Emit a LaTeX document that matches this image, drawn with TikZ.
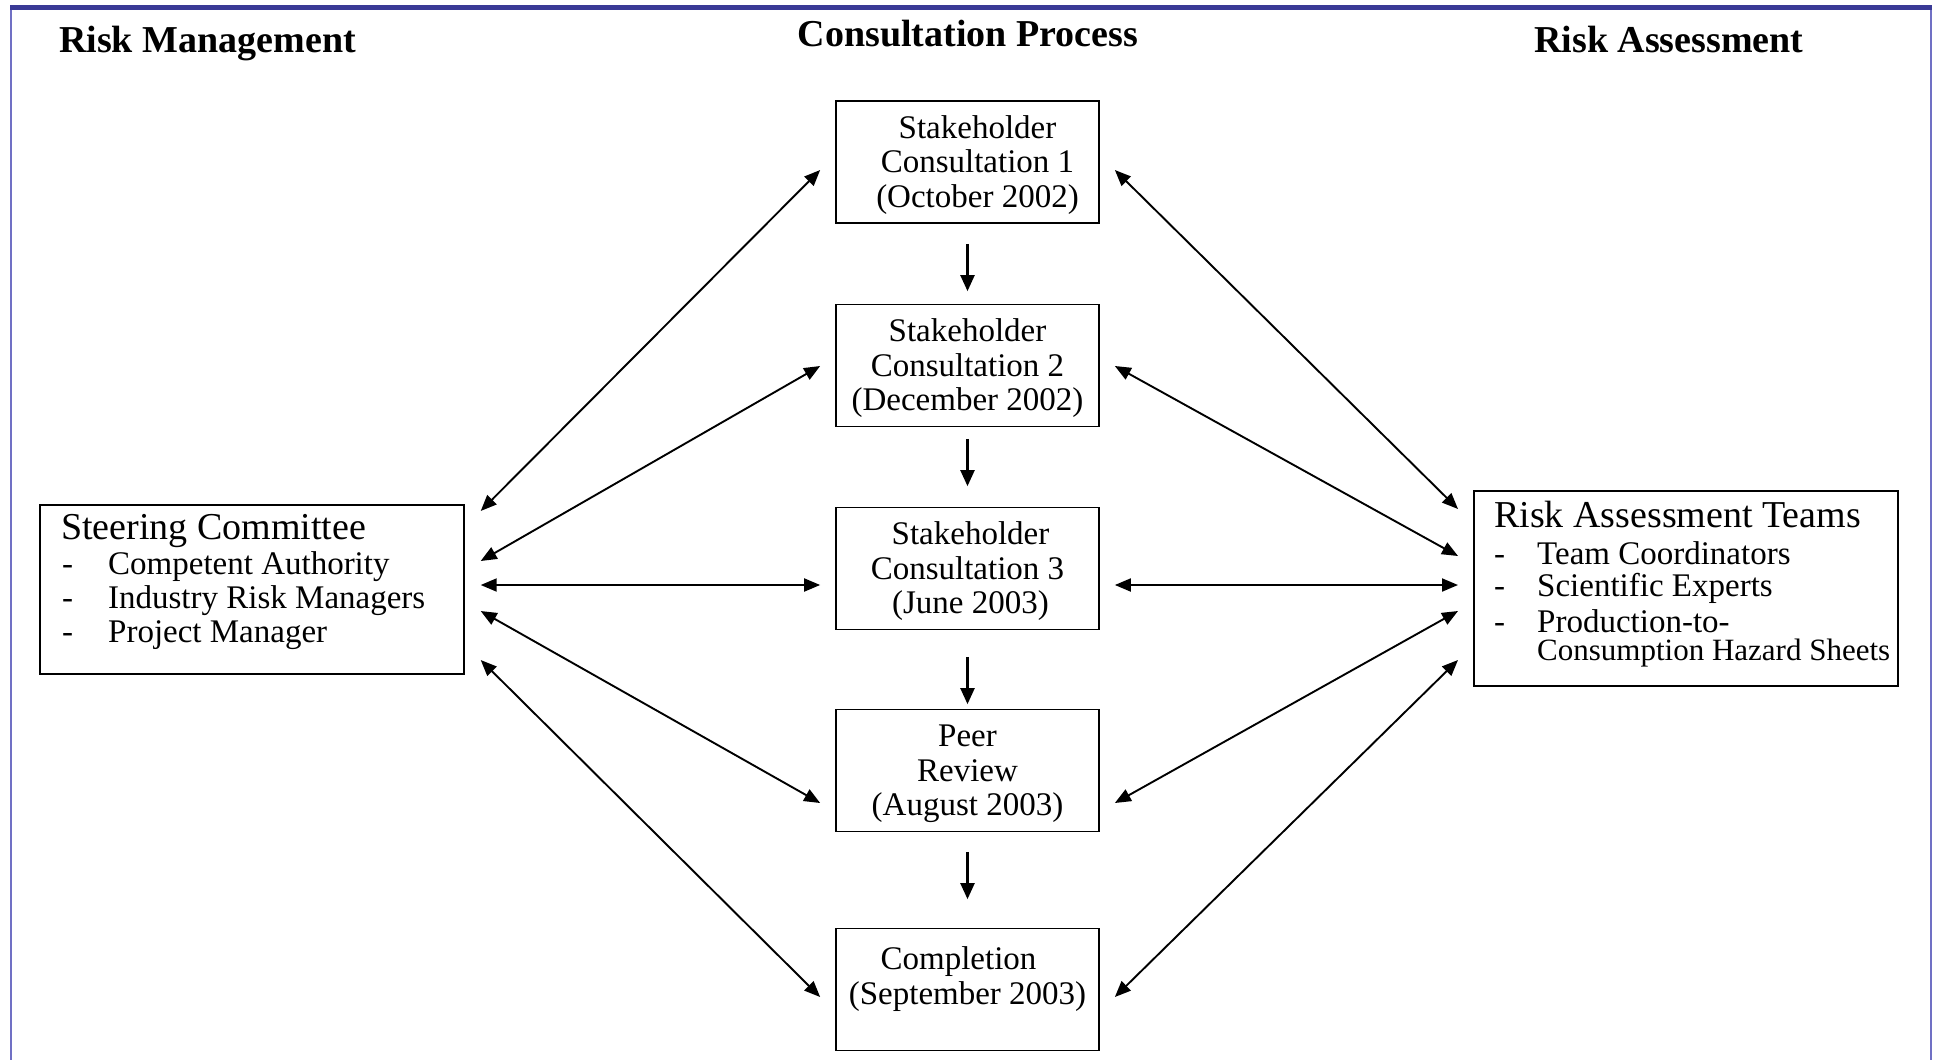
\documentclass[tikz,border=0pt]{standalone}
\usepackage{fontspec}
\setmainfont{Liberation Serif}
\usetikzlibrary{arrows.meta,calc}
\definecolor{barblue}{RGB}{58,58,150}
\definecolor{lineblue}{RGB}{112,112,196}
\newcommand{\topstrut}{\rule{0pt}{29pt}}
\begin{document}
\begin{tikzpicture}[x=1pt,y=-1pt,
  cbox/.style={draw, line width=1.7pt, inner sep=0pt, minimum width=263pt, minimum height=122pt,
    align=center, font=\fontsize{33}{34.5}\selectfont},
  bigbox/.style={draw, line width=1.7pt, inner sep=0pt, anchor=north west, minimum width=424pt},
  ttl/.style={inner sep=0pt, anchor=base west, font=\fontsize{38}{40}\selectfont},
  itm/.style={inner sep=0pt, anchor=base west, font=\fontsize{33}{34.5}\selectfont},
  hdr/.style={inner sep=0pt, font=\fontsize{38}{40}\selectfont\bfseries},
  biarrow/.style={line width=1.9pt, {Triangle[length=16pt,width=13pt]}-{Triangle[length=16pt,width=13pt]}},
  downarrow/.style={line width=2.2pt, -{Triangle[length=16pt,width=14pt]}}]
\useasboundingbox (0,0) rectangle (1934,1060);
% frame
\fill[barblue] (10,5) rectangle (1932,10);
\draw[lineblue, line width=2pt] (11,10) -- (11,1060);
\draw[lineblue, line width=2pt] (1931,10) -- (1931,1060);
% headers
\node[hdr, anchor=base west] (hrm) at (59,52) {Risk Management};
\node[hdr, anchor=base] (hcp) at (968,46) {Consultation Process};
\node[hdr, anchor=base west] (hra) at (1534,52) {Risk Assessment};
% centre boxes
\node[cbox] (b1) at (967.5,162) {\topstrut\hspace*{20pt}Stakeholder\\\hspace*{20pt}Consultation 1\\\hspace*{20pt}(October 2002)};
\node[cbox] (b2) at (967.5,365.5) {\topstrut Stakeholder\\Consultation 2\\(December 2002)};
\node[cbox] (b3) at (967.5,568.5) {\topstrut\hspace*{6pt}Stakeholder\\Consultation 3\\\hspace*{6pt}(June 2003)};
\node[cbox] (b4) at (967.5,770.5) {\topstrut Peer\\Review\\(August 2003)};
\node[cbox] (b5) at (967.5,989.5) {\topstrut Completion\hspace*{18pt}\mbox{}\\(September 2003)\\\mbox{}};
% steering committee
\node[bigbox, minimum height=169pt] (sc) at (39,504) {};
\node[ttl] (sct) at (61,539) {Steering Committee};
\node[itm] (sc1) at (62,574) {\makebox[46pt][l]{-}Competent Authority};
\node[itm] (sc2) at (62,608) {\makebox[46pt][l]{-}Industry Risk Managers};
\node[itm] (sc3) at (62,642) {\makebox[46pt][l]{-}Project Manager};
% risk assessment teams
\node[bigbox, minimum height=195pt] (rat) at (1473,490) {};
\node[ttl] (ratt) at (1494,527) {Risk Assessment Teams};
\node[itm] (rat1) at (1494,564) {\makebox[43pt][l]{-}Team Coordinators};
\node[itm] (rat2) at (1494,596) {\makebox[43pt][l]{-}Scientific Experts};
\node[itm] (rat3) at (1494,632) {\makebox[43pt][l]{-}Production-to-};
\node[itm, font=\fontsize{31}{33}\selectfont] (rat4) at (1537,660) {Consumption Hazard Sheets};
% vertical arrows
\draw[downarrow] ($(b1.south)+(0,20)$) -- ($(b2.north)+(0,-12.5)$);
\draw[downarrow] ($(b2.south)+(0,11.5)$) -- ($(b3.north)+(0,-20.5)$);
\draw[downarrow] ($(b3.south)+(0,26.5)$) -- ($(b4.north)+(0,-4.5)$);
\draw[downarrow] ($(b4.south)+(0,19.5)$) -- ($(b5.north)+(0,-28.5)$);
% left arrows
\draw[biarrow] ($(sc.north east)+(16,7)$) -- ($(b1.west)+(-15,8)$);
\draw[biarrow] ($(sc.north east)+(16,57)$) -- ($(b2.west)+(-15,0.5)$);
\draw[biarrow] ($(sc.north east)+(16,81)$) -- ($(b3.west)+(-15,16.5)$);
\draw[biarrow] ($(sc.north east)+(16,107)$) -- ($(b4.west)+(-15,32.5)$);
\draw[biarrow] ($(sc.north east)+(16,156)$) -- ($(b5.west)+(-15,7.5)$);
% right arrows
\draw[biarrow] ($(b1.east)+(15,8)$) -- ($(rat.north west)+(-15,19)$);
\draw[biarrow] ($(b2.east)+(15,0.5)$) -- ($(rat.north west)+(-15,66)$);
\draw[biarrow] ($(b3.east)+(15,16.5)$) -- ($(rat.north west)+(-15,95)$);
\draw[biarrow] ($(b4.east)+(15,32.5)$) -- ($(rat.north west)+(-15,121)$);
\draw[biarrow] ($(b5.east)+(15,7.5)$) -- ($(rat.north west)+(-15,170)$);
\end{tikzpicture}
\end{document}
